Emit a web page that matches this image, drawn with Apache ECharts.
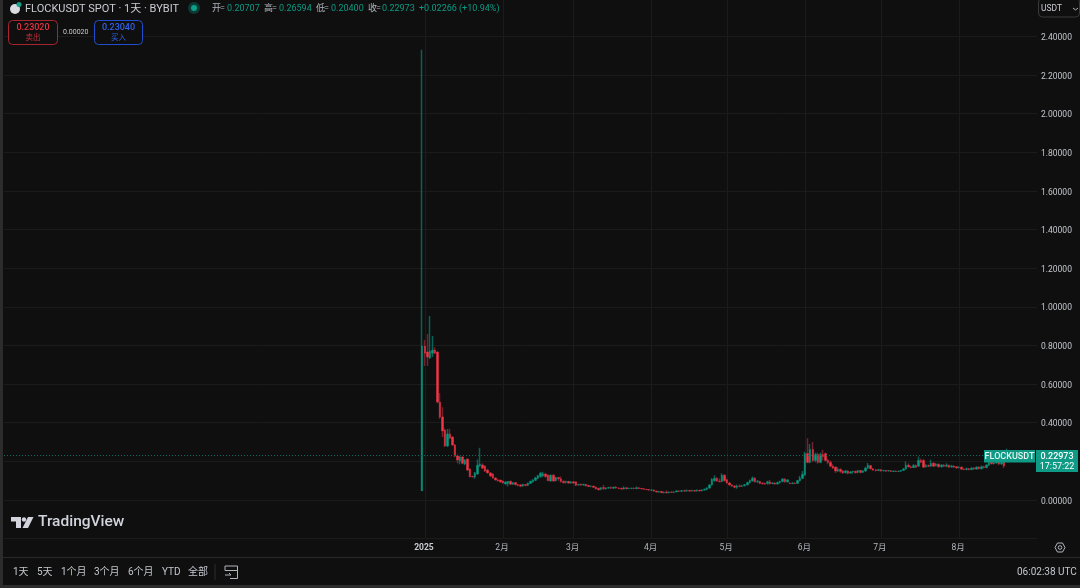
<!DOCTYPE html>
<html><head><meta charset="utf-8">
<style>html,body{margin:0;padding:0;background:#0f0f0f;overflow:hidden}#c{width:1080px;height:588px}</style>
<script src="https://cdn.jsdelivr.net/npm/echarts@6/dist/echarts.min.js"></script>
</head><body><div id="c"></div>
<script>
const opens=[
.047,.797,.766,.735,.76,.776,.766,.507,.43,.362,
.28,.342,.326,.285,.228,.202,.223,.186,.212,.16,
.122,.12,.135,.178,.181,.176,.155,.14,.135,.114,
.104,.103,.098,.083,.085,.097,.082,.09,.08,.078,
.073,.080,.076,.086,.094,.102,.112,.122,.125,.134,
.130,.098,.128,.100,.116,.110,.096,.092,.096,.088,
.094,.094,.078,.082,.077,.081,.075,.071,.072,.066,
.060,.056,.064,.058,.062,.064,.061,.066,.062,.060,
.057,.063,.059,.060,.061,.059,.063,.060,.058,.055,
.054,.051,.052,.046,.042,.044,.038,.040,.038,.041,
.040,.042,.047,.045,.048,.046,.049,.046,.049,.046,
.050,.047,.052,.055,.062,.078,.100,.112,.098,.096,
.128,.105,.088,.078,.072,.066,.072,.071,.074,.079,
.090,.099,.113,.094,.096,.087,.086,.086,.094,.085,
.088,.083,.090,.096,.108,.094,.088,.086,.088,.086,
.100,.112,.130,.240,.195,.262,.205,.235,.195,.235,
.240,.205,.195,.175,.170,.150,.158,.150,.142,.150,
.140,.145,.148,.143,.152,.143,.150,.165,.178,.162,
.156,.153,.157,.151,.153,.150,.152,.148,.150,.148,
.149,.153,.160,.180,.172,.168,.178,.175,.205,.205,
.172,.178,.175,.190,.178,.185,.172,.180,.175,.180,
.172,.176,.172,.168,.170,.160,.158,.162,.158,.165,
.160,.170,.162,.172,.168,.180,.195,.188,.192,.200,
.186,.205,.20707];
const closes=[
.797,.76,.74,.77,.776,.76,.507,.43,.357,.28,
.342,.32,.285,.228,.207,.223,.19,.207,.155,.12,
.12,.14,.18,.186,.165,.15,.14,.124,.114,.104,
.1,.093,.088,.093,.096,.082,.09,.08,.076,.072,
.080,.076,.088,.097,.104,.115,.126,.138,.136,.122,
.100,.128,.098,.116,.110,.096,.090,.096,.088,.094,
.088,.076,.080,.077,.081,.073,.070,.072,.066,.058,
.053,.064,.060,.062,.064,.061,.066,.062,.060,.057,
.063,.059,.060,.061,.059,.063,.060,.058,.055,.054,
.051,.052,.046,.042,.044,.038,.040,.037,.041,.040,
.042,.047,.045,.048,.046,.049,.046,.049,.046,.050,
.047,.052,.055,.062,.078,.108,.112,.098,.096,.128,
.100,.088,.078,.072,.066,.072,.071,.074,.079,.090,
.101,.113,.094,.096,.086,.085,.083,.094,.084,.088,
.083,.090,.096,.108,.094,.104,.086,.088,.086,.100,
.112,.133,.240,.195,.262,.205,.235,.195,.235,.225,
.205,.195,.175,.165,.150,.158,.148,.140,.150,.138,
.145,.148,.142,.152,.143,.150,.165,.180,.162,.155,
.152,.157,.150,.153,.149,.152,.148,.150,.148,.149,
.153,.160,.180,.172,.168,.178,.170,.205,.195,.170,
.178,.175,.190,.175,.185,.172,.180,.175,.180,.170,
.176,.170,.166,.170,.160,.158,.162,.158,.165,.160,
.170,.162,.172,.168,.180,.195,.188,.192,.200,.186,
.194,.176,.22973];
const lows=[
.047,.694,.694,.73,.74,.756,.50,.42,.326,.274,
.274,.315,.28,.222,.19,.185,.185,.18,.15,.118,
.117,.11,.13,.17,.16,.145,.137,.12,.11,.1,
.095,.09,.085,.08,.07,.078,.078,.075,.07,.066,
.068,.070,.072,.083,.090,.098,.108,.115,.118,.115,
.098,.095,.095,.096,.100,.090,.085,.085,.083,.084,
.082,.072,.074,.074,.075,.070,.067,.066,.062,.054,
.050,.05,.052,.054,.058,.058,.058,.059,.056,.053,
.054,.055,.056,.057,.056,.056,.057,.055,.052,.050,
.048,.047,.043,.038,.036,.035,.034,.034,.035,.037,
.036,.040,.042,.042,.043,.043,.043,.044,.043,.043,
.044,.045,.048,.050,.058,.074,.095,.094,.090,.092,
.095,.084,.074,.068,.062,.058,.066,.067,.070,.075,
.086,.095,.090,.088,.082,.080,.078,.080,.080,.082,
.079,.080,.086,.092,.090,.090,.082,.082,.083,.084,
.096,.108,.125,.190,.190,.195,.195,.188,.190,.205,
.200,.185,.170,.160,.140,.145,.140,.135,.137,.133,
.135,.136,.137,.138,.138,.140,.146,.160,.158,.150,
.148,.149,.147,.148,.146,.147,.145,.145,.145,.145,
.146,.150,.157,.168,.164,.165,.166,.172,.190,.165,
.168,.170,.172,.170,.174,.168,.168,.170,.170,.165,
.167,.166,.162,.163,.155,.154,.154,.153,.154,.156,
.157,.158,.158,.163,.164,.176,.183,.184,.187,.180,
.182,.165,.204];
const highs=[
2.33,.828,.859,.952,.849,.79,.77,.554,.48,.37,
.368,.368,.33,.29,.235,.228,.226,.212,.215,.165,
.125,.145,.21,.27,.19,.18,.16,.145,.138,.118,
.11,.106,.102,.097,.098,.1,.092,.093,.083,.082,
.084,.083,.090,.100,.108,.120,.130,.145,.146,.140,
.132,.132,.135,.120,.120,.122,.102,.100,.100,.098,
.098,.096,.084,.085,.084,.083,.078,.076,.074,.070,
.064,.066,.078,.066,.068,.070,.069,.072,.066,.064,
.070,.066,.064,.064,.065,.070,.066,.063,.061,.058,
.057,.056,.055,.049,.047,.048,.044,.050,.044,.045,
.045,.050,.051,.052,.053,.054,.052,.053,.052,.055,
.053,.056,.060,.066,.082,.113,.128,.118,.112,.138,
.134,.110,.094,.082,.076,.080,.080,.079,.083,.094,
.106,.122,.118,.104,.100,.092,.090,.100,.104,.093,
.092,.095,.100,.114,.114,.108,.092,.092,.091,.104,
.125,.150,.250,.320,.290,.300,.245,.245,.245,.260,
.245,.215,.205,.185,.175,.170,.165,.155,.156,.155,
.150,.152,.152,.156,.156,.155,.172,.192,.182,.166,
.160,.160,.160,.156,.156,.155,.155,.153,.153,.152,
.156,.166,.200,.190,.178,.186,.184,.225,.215,.212,
.186,.184,.208,.196,.192,.190,.186,.186,.190,.184,
.182,.180,.176,.175,.174,.165,.167,.166,.170,.170,
.175,.175,.178,.178,.186,.205,.200,.200,.212,.205,
.205,.210,.26594];
const monthLabels={'2025-01-01':'2025','2025-02-01':'2月','2025-03-01':'3月','2025-04-01':'4月','2025-05-01':'5月','2025-06-01':'6月','2025-07-01':'7月','2025-08-01':'8月'};
const lastPrice=0.22973;
const UP='#089981',DOWN='#f23645',UPW='#0b6155',DOWNW='#74212d',TXT='#b2b5be',BG='#0f0f0f',GRID='#1b1b1b';

const categories=[];
{const start=Date.UTC(2024,11,31)-166*864e5;
 for(let i=0;i<411;i++){categories.push(new Date(start+i*864e5).toISOString().slice(0,10));}}
const lead=Array.from({length:166},()=>['-','-','-','-']);
const wicks=lead.concat(opens.map((o,i)=>[o,closes[i],lows[i],highs[i]]));
const bodies=lead.concat(opens.map((o,i)=>{const c=closes[i];return [o,c,Math.min(o,c),Math.max(o,c)];}));
const isMonth=(i,v)=>monthLabels[v]!==undefined;
const FONT='Roboto,"Noto Sans CJK SC",sans-serif';

function t(x,y,text,fill,size,extra){return {type:'text',silent:true,z:50,x:x,y:y,style:Object.assign({text:text,fill:fill,font:(extra&&extra.weight||'400')+' '+size+'px '+FONT,align:(extra&&extra.align)||'left',verticalAlign:'middle'})};}
function r(x,y,w,h,fill,stroke,rad){return {type:'rect',silent:true,z:45,shape:{x:x,y:y,width:w,height:h,r:rad||0},style:{fill:fill||'transparent',stroke:stroke||null,lineWidth:1}};}

const GREENT='#0d9a84';
const gfx=[
 r(0,0,3,588,'#2c2c2c'),r(0,585,1080,3,'#2c2c2c'),
 r(3,557,1077,1,'#2a2a2a'),
 {type:'circle',silent:true,z:46,shape:{cx:15,cy:9,r:5},style:{fill:'#d8dbe0'}},
 {type:'circle',silent:true,z:47,shape:{cx:19,cy:4.5,r:2.5},style:{fill:'#14a08a'}},
 t(25,9,'FLOCKUSDT SPOT · 1天 · BYBIT','#c9ccd3',11),
 {type:'circle',silent:true,z:46,shape:{cx:194,cy:8,r:6},style:{fill:'#0b3a33'}},
 {type:'circle',silent:true,z:47,shape:{cx:194,cy:8,r:3},style:{fill:'#0f9f88'}},
 t(212,9,'开','#b2b5be',9),t(220,9,'=','#b2b5be',9),t(227,9,'0.20707',GREENT,9),
 t(264,9,'高','#b2b5be',9),t(272,9,'=','#b2b5be',9),t(279,9,'0.26594',GREENT,9),
 t(316,9,'低','#b2b5be',9),t(324,9,'=','#b2b5be',9),t(331,9,'0.20400',GREENT,9),
 t(368,9,'收','#b2b5be',9),t(376,9,'=','#b2b5be',9),t(382,9,'0.22973',GREENT,9),
 t(419,9,'+0.02266',GREENT,9),t(459,9,'(+10.94%)',GREENT,9),
 r(8.5,20.5,49,24,BG,'#a8242f',4),
 t(33,28,'0.23020','#e5303f',9,{align:'center',weight:'500'}),t(33,38,'卖出','#c4303c',7.5,{align:'center'}),
 t(63,32,'0.00020','#c8cad0',7),
 r(94.5,20.5,48,24,BG,'#1f4fd0',4),
 t(118.5,28,'0.23040','#2f62e8',9,{align:'center',weight:'500'}),t(118.5,38,'买入','#2f62e8',7.5,{align:'center'}),
 r(1038.5,-2,41,19,BG,'#3a3a3a',4),
 t(1041,9,'USDT','#c9ccd3',8.5),
 {type:'polyline',silent:true,z:50,shape:{points:[[1073,8],[1075.5,10],[1078,8]]},style:{stroke:'#b2b5be',lineWidth:1,fill:null}},
 {type:'polygon',silent:true,z:46,shape:{points:[[11,517],[21,517],[21,528],[16,528],[16,521.5],[11,521.5]]},style:{fill:'#d1d4dc'}},
 {type:'circle',silent:true,z:46,shape:{cx:24,cy:519.5,r:2.2},style:{fill:'#d1d4dc'}},
 {type:'polygon',silent:true,z:46,shape:{points:[[28,517],[33.5,517],[28,528],[22.5,528]]},style:{fill:'#d1d4dc'}},
 t(38,522.5,'TradingView','#d1d4dc',15.5,{weight:'500'}),
 t(13,572,'1天','#c4c7ce',10),t(37,572,'5天','#c4c7ce',10),t(61,572,'1个月','#c4c7ce',10),
 t(94,572,'3个月','#c4c7ce',10),t(128,572,'6个月','#c4c7ce',10),t(162,572,'YTD','#c4c7ce',10),t(188,572,'全部','#c4c7ce',10),
 r(214.5,564,1,16,'#2e2e2e'),
 {type:'polyline',silent:true,z:46,shape:{points:[[230,578.5],[237.5,578.5],[237.5,566],[225,566],[225,570.5],[237.5,570.5]]},style:{stroke:'#b2b5be',lineWidth:1,fill:null}},
 {type:'polyline',silent:true,z:46,shape:{points:[[225,575],[231,575],[229,573]]},style:{stroke:'#b2b5be',lineWidth:1,fill:null}},
 t(1017,572,'06:02:38 UTC','#c4c7ce',10),
 {type:'polygon',silent:true,z:46,shape:{points:[[1055,547.5],[1057.5,543],[1062.5,543],[1065,547.5],[1062.5,552],[1057.5,552]]},style:{stroke:'#b2b5be',lineWidth:1,fill:'transparent'}},
 {type:'circle',silent:true,z:47,shape:{cx:1060,cy:547.5,r:1.8},style:{stroke:'#b2b5be',lineWidth:1,fill:'transparent'}},
 r(984,450,51,12.5,'#0e9a84'),
 t(1009.5,456.5,'FLOCKUSDT','#e6f3f0',9,{align:'center',weight:'500'}),
 r(1036,450,42,22,'#0e9a84'),
 t(1057,456.5,'0.22973','#ffffff',9,{align:'center',weight:'500'}),
 t(1057,466.5,'17:57:22','#ffffff',9,{align:'center'})
];

const chart=echarts.init(document.getElementById('c'),null,{renderer:'canvas'});
chart.setOption({
 animation:false,backgroundColor:BG,
 grid:{left:4,right:43,top:-2.32,height:540.96,containLabel:false,outerBoundsMode:'none'},
 xAxis:{type:'category',data:categories,boundaryGap:false,
  axisLine:{show:false},axisTick:{show:false},
  splitLine:{show:true,interval:isMonth,lineStyle:{color:GRID,width:1}},
  axisLabel:{interval:isMonth,margin:5,fontFamily:FONT,fontSize:8.5,color:TXT,hideOverlap:false,
   formatter:v=>{const s=monthLabels[v]||'';return s==='2025'?'{b|2025}\u2009':s+'\u2009';},
   rich:{b:{fontWeight:700,fontSize:8.5,color:'#c9ccd3',fontFamily:FONT}}}},
 yAxis:{type:'value',position:'right',min:-0.2,max:2.6,interval:0.2,scale:false,
  axisLine:{show:false},axisTick:{show:false},
  splitLine:{show:true,lineStyle:{color:GRID,width:1}},
  axisLabel:{margin:4,verticalAlign:'top',lineHeight:3,fontFamily:FONT,fontSize:8.5,color:'#c4c7ce',
   formatter:v=>(v<-0.01||v>2.5)?'':v.toFixed(5)}},
 series:[
  {name:'wick',type:'candlestick',data:wicks,barWidth:1,
   itemStyle:{color:UPW,color0:DOWNW,borderColor:UPW,borderColor0:DOWNW,borderColorDoji:UPW,borderWidth:1.5},
   markLine:{silent:true,symbol:'none',label:{show:false},animation:false,
    lineStyle:{color:'#0f6a5c',type:[1,2],width:1},data:[{yAxis:lastPrice}]}},
  {name:'body',type:'candlestick',data:bodies,barWidth:2,z:3,
   itemStyle:{color:UP,color0:DOWN,borderColor:UP,borderColor0:DOWN,borderColorDoji:DOWN,borderWidth:0.4}}
 ],
 graphic:gfx
});
</script></body></html>
